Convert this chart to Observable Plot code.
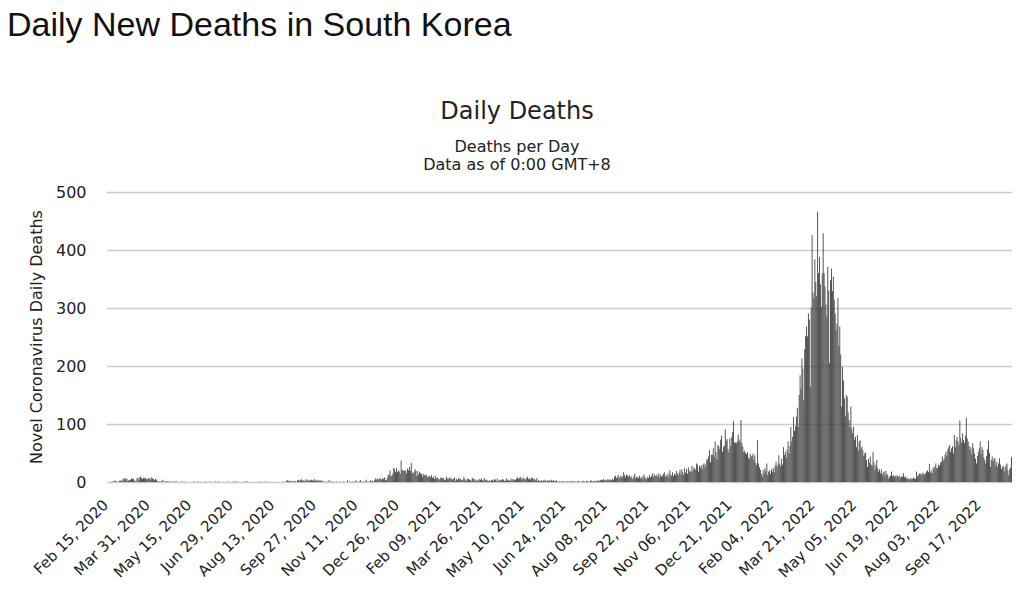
<!DOCTYPE html>
<html><head><meta charset="utf-8">
<script src="https://cdn.jsdelivr.net/npm/d3@7"></script>
<script src="https://cdn.jsdelivr.net/npm/@observablehq/plot@0.6"></script>
<style>
html,body{margin:0;padding:0;background:#fff;}
body{width:1024px;height:596px;overflow:hidden;position:relative;}
#title{position:absolute;left:7px;top:7px;font-family:"Liberation Sans",Arial,sans-serif;font-size:34px;line-height:34px;color:#111;white-space:nowrap;}
.ct{position:absolute;left:0;width:1034px;text-align:center;font-family:"DejaVu Sans",sans-serif;color:#222;white-space:nowrap;}
#ytitle{position:absolute;left:-113px;top:329px;width:300px;height:16px;line-height:16px;text-align:center;font-family:"DejaVu Sans",sans-serif;font-size:16px;color:#222;transform:rotate(-90deg);white-space:nowrap;}
#chart{position:absolute;left:0;top:175px;}
</style>
</head><body>
<div id="title">Daily New Deaths in South Korea</div>
<div class="ct" style="top:98.7px;font-size:24px;line-height:24px;">Daily Deaths</div>
<div class="ct" style="top:138.5px;font-size:16px;line-height:16px;">Deaths per Day</div>
<div class="ct" style="top:156.5px;font-size:16px;line-height:16px;">Data as of 0:00 GMT+8</div>
<div id="ytitle">Novel Coronavirus Daily Deaths</div>
<div id="chart"></div>
<script>
// Daily deaths, one inner array per month (2020 starts Feb 15, 2022 ends Oct 21)
const deaths2020 = [
  [0,0,0,0,0,1,1,0,3,1,1,0,1,2,2],
  [3,1,6,4,7,5,6,2,3,3,4,6,5,6,3,2,0,6,7,3,8,9,7,5,7,6,8,5,5,6,7],
  [6,4,8,6,5,3,6,4,1,1,1,0,1,1,4,1,0,1,1,1,1,0,1,0,1,0,1,0,1,1],
  [0,0,0,0,1,0,0,1,0,0,0,0,0,0,0,0,0,0,1,0,0,0,1,0,0,0,0,0,0,0,1],
  [0,0,0,0,1,0,0,0,0,0,1,0,0,1,0,0,0,0,0,0,0,0,0,1,0,0,0,0,0,1],
  [0,0,1,1,0,0,0,0,0,0,0,1,0,1,1,0,0,0,0,0,0,0,0,0,0,0,0,0,1,0,0],
  [0,0,0,1,0,0,0,0,0,0,0,0,0,0,0,0,0,0,0,0,0,0,1,0,0,0,2,3,2,1,2],
  [1,2,0,1,2,1,0,3,4,2,3,5,2,3,2,2,5,3,2,4,2,3,4,3,2,5,3,2,4,2],
  [3,2,3,1,2,0,1,0,0,1,0,3,0,1,0,1,0,0,0,1,0,0,0,1,0,0,0,1,0,0,0],
  [3,0,1,0,0,1,0,0,1,3,0,1,0,1,3,0,1,0,0,1,4,1,0,1,0,3,1,2,0,3],
  [6,4,6,4,5,7,5,3,7,5,8,3,3,7,13,12,20,11,10,14,24,22,17,24,17,20,18,14,37,21,20]
];
const deaths2021 = [
  [20,19,20,15,23,20,26,19,33,15,16,17,22,19,10,19,12,17,15,14,9,14,12,11,13,10,8,10,10,8,12],
  [7,9,5,11,6,8,6,4,5,8,7,6,7,3,4,9,6,5,7,8,5,6,4,6,8,2,5,3],
  [7,5,6,3,4,4,9,5,3,2,6,5,4,3,2,7,5,6,3,2,3,4,1,5,4,6,3,2,7,4,3],
  [4,2,2,3,1,4,3,2,5,4,1,6,2,3,3,4,3,5,4,2,2,6,4,2,3,3,6,2,5,4],
  [3,4,6,8,5,7,9,6,4,8,5,6,3,7,9,5,6,4,8,7,5,6,4,3,7,2,3,1,2,3,1],
  [3,2,4,1,2,3,2,3,1,4,2,3,1,2,3,1,0,1,1,0,1,2,0,1,0,1,1,0,1,1],
  [1,0,2,1,0,1,0,1,2,0,1,0,1,2,1,1,0,2,1,1,0,3,2,1,1,2,1,2,1,3,2],
  [2,3,4,3,5,3,4,2,4,5,3,4,4,3,5,4,9,11,7,8,12,6,9,11,7,10,17,12,8,13,11],
  [9,12,8,10,7,5,10,14,6,9,8,7,11,6,9,5,10,13,8,6,5,9,7,12,8,10,15,9,14,11],
  [10,13,9,15,8,13,9,11,14,17,9,12,10,15,8,20,13,11,17,10,14,12,19,15,11,16,21,13,22,17,12],
  [24,16,22,14,25,18,20,17,28,19,25,23,21,32,30,18,28,25,29,22,30,32,25,30,39,39,44,55,34,47],
  [47,58,43,70,52,39,64,62,57,73,80,52,60,63,91,71,74,57,51,75,62,77,86,105,68,68,67,70,82,73,69]
];
const deaths2022 = [
  [107,67,61,52,54,50,48,52,42,40,49,44,45,49,38,46,33,29,72,32,25,21,14,9,21,15,24,19,32,12,18],
  [20,14,22,18,24,17,28,35,26,30,46,32,27,40,30,60,47,52,42,56,70,49,62,95,70,78,112,88],
  [96,113,128,95,150,184,161,213,196,141,229,252,268,251,291,280,164,301,426,327,317,384,345,320,466,360,388,341,302,360,429],
  [360,337,306,285,371,330,205,348,368,329,354,314,290,262,273,317,235,268,220,130,199,175,144,113,150,147,120,107,95,130],
  [92,84,96,73,78,60,81,54,70,72,58,61,55,45,49,51,38,26,40,33,44,30,28,52,34,21,29,38,24,18,22],
  [15,22,12,16,18,10,19,14,12,6,9,11,18,10,12,9,11,8,12,10,9,11,7,10,9,15,8,10,6,7],
  [5,6,4,7,5,6,8,6,5,18,9,12,15,13,15,11,16,14,13,15,18,20,17,31,16,20,15,25,22,27,32],
  [24,24,30,28,33,35,44,37,40,47,52,45,56,60,64,52,58,62,49,81,60,72,78,70,64,106,76,68,84,72,67],
  [80,111,75,70,62,55,60,48,67,58,49,40,32,45,52,58,70,48,60,55,42,38,32,45,56,71,50,26,38,44],
  [36,40,41,29,35,26,32,41,30,22,26,28,18,25,29,32,20,12,22,25,43]
];
const tickLabels = ["Feb 15, 2020","Mar 31, 2020","May 15, 2020","Jun 29, 2020","Aug 13, 2020","Sep 27, 2020","Nov 11, 2020","Dec 26, 2020","Feb 09, 2021","Mar 26, 2021","May 10, 2021","Jun 24, 2021","Aug 08, 2021","Sep 22, 2021","Nov 06, 2021","Dec 21, 2021","Feb 04, 2022","Mar 21, 2022","May 05, 2022","Jun 19, 2022","Aug 03, 2022","Sep 17, 2022"];
const yTicks = [0, 100, 200, 300, 400, 500];
const startDate = "2020-02-15";

const values = [...deaths2020, ...deaths2021, ...deaths2022].flat();
const fmt = d3.utcFormat("%b %d, %Y");
const t0 = new Date(startDate + "T00:00:00Z");
const data = values.map((v, i) => ({key: fmt(d3.utcDay.offset(t0, i)), value: v}));
const keys = data.map(d => d.key);

const chart = Plot.plot({
  width: 1024,
  height: 421,
  marginTop: 17,
  marginBottom: 114,
  marginLeft: 107,
  marginRight: 12,
  style: {fontFamily: "DejaVu Sans, sans-serif", fontSize: "16px", color: "#222", background: "transparent"},
  x: {type: "band", domain: keys, paddingInner: 0.05, paddingOuter: 0},
  y: {domain: [0, 500]},
  marks: [
    Plot.gridY(yTicks, {stroke: "#cccccc", strokeOpacity: 1, strokeWidth: 1.5}),
    Plot.barY(data, {x: "key", y: "value", fill: "#40403e"}),
    Plot.axisY(yTicks, {tickSize: 0, tickPadding: 21, label: null, fontSize: 16}),
    Plot.axisX(tickLabels, {tickSize: 0, tickRotate: -45, tickPadding: 20, dx: -2, label: null, fontSize: 15})
  ]
});
document.getElementById("chart").appendChild(chart);
</script>
</body></html>
